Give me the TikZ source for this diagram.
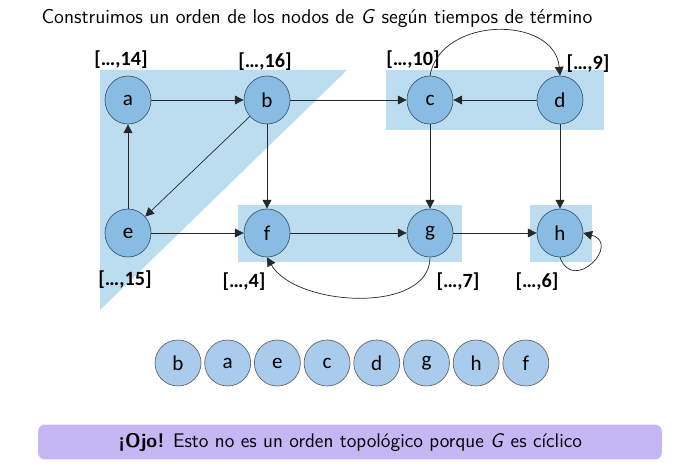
\documentclass[tikz,border=0pt]{standalone}
\usepackage{fontspec}
\newfontfamily\carlito{Carlito}
\usetikzlibrary{shapes.geometric,arrows.meta,positioning}

\definecolor{hlblue}{RGB}{188,221,240}
\definecolor{vfill}{RGB}{137,188,226}
\definecolor{vdraw}{RGB}{60,90,120}
\definecolor{ofill}{RGB}{170,204,236}
\definecolor{lav}{RGB}{196,183,244}
\definecolor{edgec}{RGB}{40,40,40}

\begin{document}
\begin{tikzpicture}[x=0.02cm,y=-0.02cm,
				vertex/.style={draw=vdraw, ellipse, fill=vfill, minimum width=0.92cm, minimum height=0.96cm, inner sep=0pt, font=\carlito\fontsize{12}{12}\selectfont},
				ordnode/.style={draw=black!60, circle, fill=ofill, minimum size=0.92cm, inner sep=0pt, font=\carlito\fontsize{12}{12}\selectfont},
				lbl/.style={font=\carlito\bfseries\fontsize{11.5}{11.5}\selectfont},
				hl/.style={fill=hlblue, draw=none},
				arc/.style={draw=edgec, -{Triangle[length=5pt,width=5pt]}}
				]
				\useasboundingbox (0,0) rectangle (673,473);
				% highlighted groups
				\fill[hl] (100,70) -- (347,70) -- (100,310) -- cycle;
				\fill[hl] (386,70) rectangle (604,130);
				\fill[hl] (238,205) rectangle (462,262);
				\fill[hl] (530,205) rectangle (592,262);
				
				\node[font=\sffamily\fontsize{11.4}{13}\selectfont] (title) at (317,18) {Construimos un orden de los nodos de \textit{G} según tiempos de término};
				
				\node[vertex] (a) at (128,100) {a};
				\node[vertex] (b) at (267,100) {b};
				\node[vertex] (c) at (430,100) {c};
				\node[vertex] (d) at (560,100) {d};
				\node[vertex] (e) at (128,233) {e};
				\node[vertex] (f) at (267,233) {f};
				\node[vertex] (g) at (430,233) {g};
				\node[vertex] (h) at (560,233) {h};
				
				\node[lbl] (ta) at (121,60) {[…,14]};
				\node[lbl] (tb) at (265,62) {[…,16]};
				\node[lbl] (tc) at (413,60) {[…,10]};
				\node[lbl] (td) at (588,64) {[…,9]};
				\node[lbl] (te) at (125,280) {[…,15]};
				\node[lbl] (tf) at (244,282) {[…,4]};
				\node[lbl] (tg) at (458,282) {[…,7]};
				\node[lbl] (th) at (537,282) {[…,6]};
				
				\draw[arc] (a) -- (b);
				\draw[arc] (b) -- (c);
				\draw[arc] (d) -- (c);
				\draw[arc] (e) -- (a);
				\draw[arc] (b) -- (e);
				\draw[arc] (b) -- (f);
				\draw[arc] (c) -- (g);
				\draw[arc] (d) -- (h);
				\draw[arc] (e) -- (f);
				\draw[arc] (f) -- (g);
				\draw[arc] (g) -- (h);
				\draw[arc] (c.north) to[out=80,in=95,looseness=1.2] (d.north);
				\draw[arc] (g.south) to[out=-90,in=-60,looseness=0.9] (f.south);
				\draw[arc] (h.south) to[out=-70,in=-15,looseness=3] (h.east);
				
				% resulting order
				\node[ordnode] (o1) at (178,363) {b};
				\node[ordnode, right=0.06cm of o1] (o2) {a};
				\node[ordnode, right=0.06cm of o2] (o3) {e};
				\node[ordnode, right=0.06cm of o3] (o4) {c};
				\node[ordnode, right=0.06cm of o4] (o5) {d};
				\node[ordnode, right=0.06cm of o5] (o6) {g};
				\node[ordnode, right=0.06cm of o6] (o7) {h};
				\node[ordnode, right=0.06cm of o7] (o8) {f};
				
				\node[fill=lav, rounded corners=4pt, minimum width=12.48cm, minimum height=0.7cm, font=\sffamily\fontsize{11.2}{13}\selectfont] (note) at (350,442) {\textbf{¡Ojo!} Esto no es un orden topológico porque \textit{G} es cíclico};
			\end{tikzpicture}
\end{document}
